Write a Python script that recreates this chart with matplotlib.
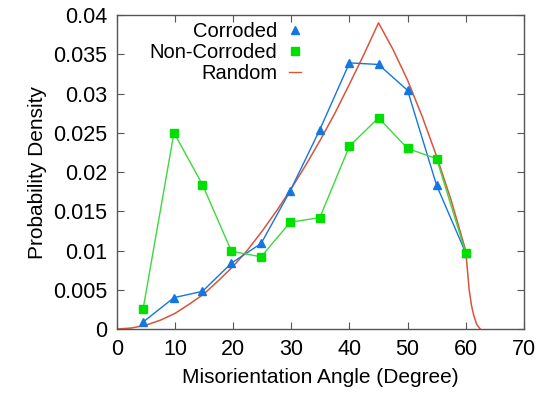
import matplotlib
matplotlib.use("Agg")
import matplotlib.pyplot as plt
from matplotlib.lines import Line2D

plt.rcParams['font.family'] = ['Liberation Sans', 'DejaVu Sans']

# misorientation angles of the measured bins (degrees)
angles = [4.5, 9.8, 14.7, 19.7, 24.8, 29.8, 34.9, 40, 45, 50, 55, 60]
corroded = [0.0009, 0.0040, 0.0048, 0.0084, 0.0109, 0.0176, 0.0254, 0.0339,
            0.0337, 0.0304, 0.0183, 0.0097]
non_corroded = [0.0026, 0.0250, 0.0184, 0.0099, 0.0092, 0.0136, 0.0142, 0.0233,
                0.0269, 0.0230, 0.0217, 0.0097]

# random (Mackenzie) curve
rand_x = [0, 2.5, 5, 7.5, 10, 12.5, 15, 17.5, 20, 22.5, 25, 27.5, 30, 32.5, 35,
          37.5, 40, 42.5, 45, 47.5, 50, 52.5, 55, 57.5, 60, 60.3, 60.6, 61,
          61.4, 61.9, 62.5]
rand_y = [0, 0.00013, 0.0005, 0.00114, 0.002, 0.0032, 0.0045, 0.0062, 0.008,
          0.0101, 0.0125, 0.0151, 0.0179, 0.0209, 0.0241, 0.0275, 0.0312,
          0.035, 0.039, 0.0356, 0.0317, 0.0271, 0.022, 0.0164, 0.0100, 0.0075,
          0.005, 0.003, 0.0017, 0.0006, 0]

blue = '#1476e0'
green = '#00e000'
green_line = '#3cd83c'
red = '#d8553c'

fig = plt.figure(figsize=(5.4, 3.95), dpi=100)
ax = fig.add_axes([0.2167, 0.167, 0.7533, 0.795])

ax.plot(rand_x, rand_y, color=red, lw=1.1)
ax.plot(angles, corroded, color=blue, lw=1.0, marker='^', ms=6,
        markerfacecolor=blue, markeredgecolor=blue)
ax.plot(angles, non_corroded, color=green_line, lw=1.0, marker='s', ms=5.5,
        markerfacecolor=green, markeredgecolor=green)

ax.set_xlim(0, 70)
ax.set_ylim(0, 0.04)
ax.set_xticks(range(0, 71, 10))
ax.set_yticks([0, 0.005, 0.01, 0.015, 0.02, 0.025, 0.03, 0.035, 0.04])
ax.set_yticklabels(['0', '0.005', '0.01', '0.015', '0.02', '0.025', '0.03',
                    '0.035', '0.04'])
ax.tick_params(direction='in', top=True, right=True, length=5, width=0.8,
               labelsize=15.5, color='#555555', pad=7)
for s in ax.spines.values():
    s.set_color('#555555')
    s.set_linewidth(1.0)

ax.set_xlabel('Misorientation Angle (Degree)', fontsize=15, labelpad=6)
ax.set_ylabel('Probability Density', fontsize=15, labelpad=4)

handles = [
    Line2D([], [], ls='none', marker='^', ms=6, color=blue),
    Line2D([], [], ls='none', marker='s', ms=5.5, color=green),
    Line2D([], [], color=red, lw=1.0),
]
ax.legend(handles, ['Corroded', 'Non-Corroded', 'Random'], loc='upper left',
          bbox_to_anchor=(0.05, 1.015), markerfirst=False, frameon=False,
          fontsize=14.5, handlelength=0.6, handletextpad=0.6, labelspacing=0.08,
          borderaxespad=0.2)

fig.savefig('out.png', dpi=100)
